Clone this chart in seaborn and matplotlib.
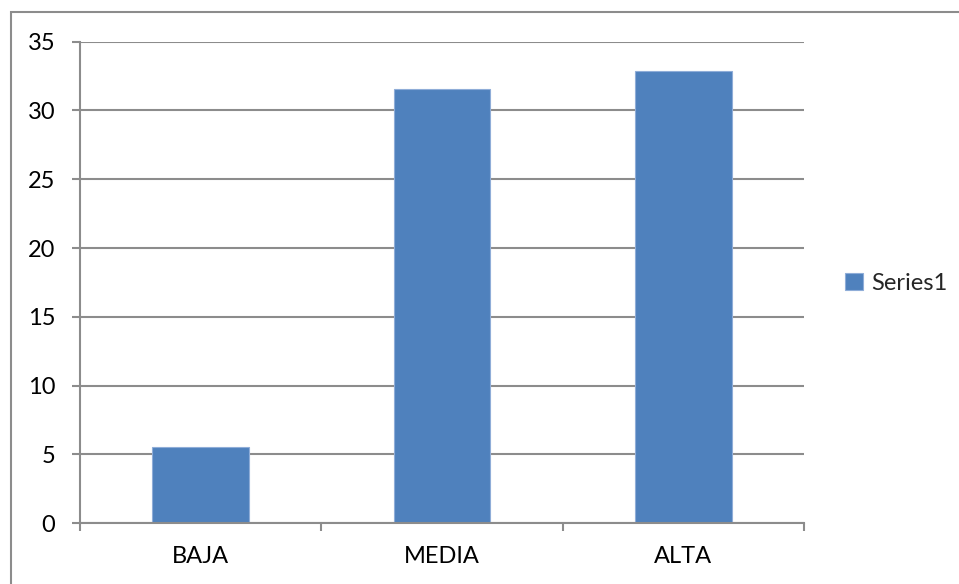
import matplotlib
matplotlib.use("Agg")
import matplotlib.pyplot as plt
import matplotlib.patches as mpatches
import pandas as pd
import seaborn as sns

categories = ["BAJA", "MEDIA", "ALTA"]
values = [5.55, 31.55, 32.85]
series_name = "Series1"
y_ticks = [0, 5, 10, 15, 20, 25, 30, 35]

bar_color = "#4F81BD"
grid_color = "#8C8C8C"

df = pd.DataFrame({"cat": categories, "val": values})

sns.set_theme(style="white")
plt.rcParams["font.family"] = ["Lato", "DejaVu Sans"]

fig = plt.figure(figsize=(9.59, 5.84), dpi=100)
ax = fig.add_axes([80 / 959, 1 - 523.3 / 584, 724 / 959, 481.6 / 584])

sns.barplot(data=df, x="cat", y="val", color=bar_color, width=0.4,
            edgecolor="#8FADD8", linewidth=0.8, saturation=1,
            label=series_name, ax=ax)

ax.set_xlim(-0.5, 2.5)
ax.set_ylim(0, 35)
ax.set_yticks(y_ticks)
ax.set_xlabel("")
ax.set_ylabel("")

# gridlines like the spreadsheet chart
ax.yaxis.grid(True, color=grid_color, linewidth=1.5)
ax.set_axisbelow(True)
for side in ["top", "right"]:
    ax.spines[side].set_visible(False)
for side in ["left", "bottom"]:
    ax.spines[side].set_color(grid_color)
    ax.spines[side].set_linewidth(1.5)

ax.tick_params(axis="y", which="major", direction="out", length=5.8,
               width=1.5, color=grid_color, left=True, pad=12,
               labelsize=17, labelcolor="black")
ax.tick_params(axis="x", which="major", length=0, pad=16,
               labelsize=17, labelcolor="black")
ax.set_xticks([-0.5, 0.5, 1.5, 2.5], minor=True)
ax.tick_params(axis="x", which="minor", direction="out", length=5.8,
               width=1.5, color=grid_color, bottom=True)

leg = ax.legend(loc="center left", bbox_to_anchor=(845 / 959, 301 / 584),
                bbox_transform=fig.transFigure, frameon=False,
                handlelength=0.75, handleheight=0.75, handletextpad=0.35,
                fontsize=17, borderaxespad=0, borderpad=0)

# outer chart border (cut off at right and bottom)
fig.patches.append(mpatches.Rectangle(
    (11 / 959, -0.1), 1.2, 1.1 - 12 / 584, transform=fig.transFigure,
    fill=False, edgecolor=grid_color, linewidth=1.5))

fig.savefig("out.png", dpi=100)
